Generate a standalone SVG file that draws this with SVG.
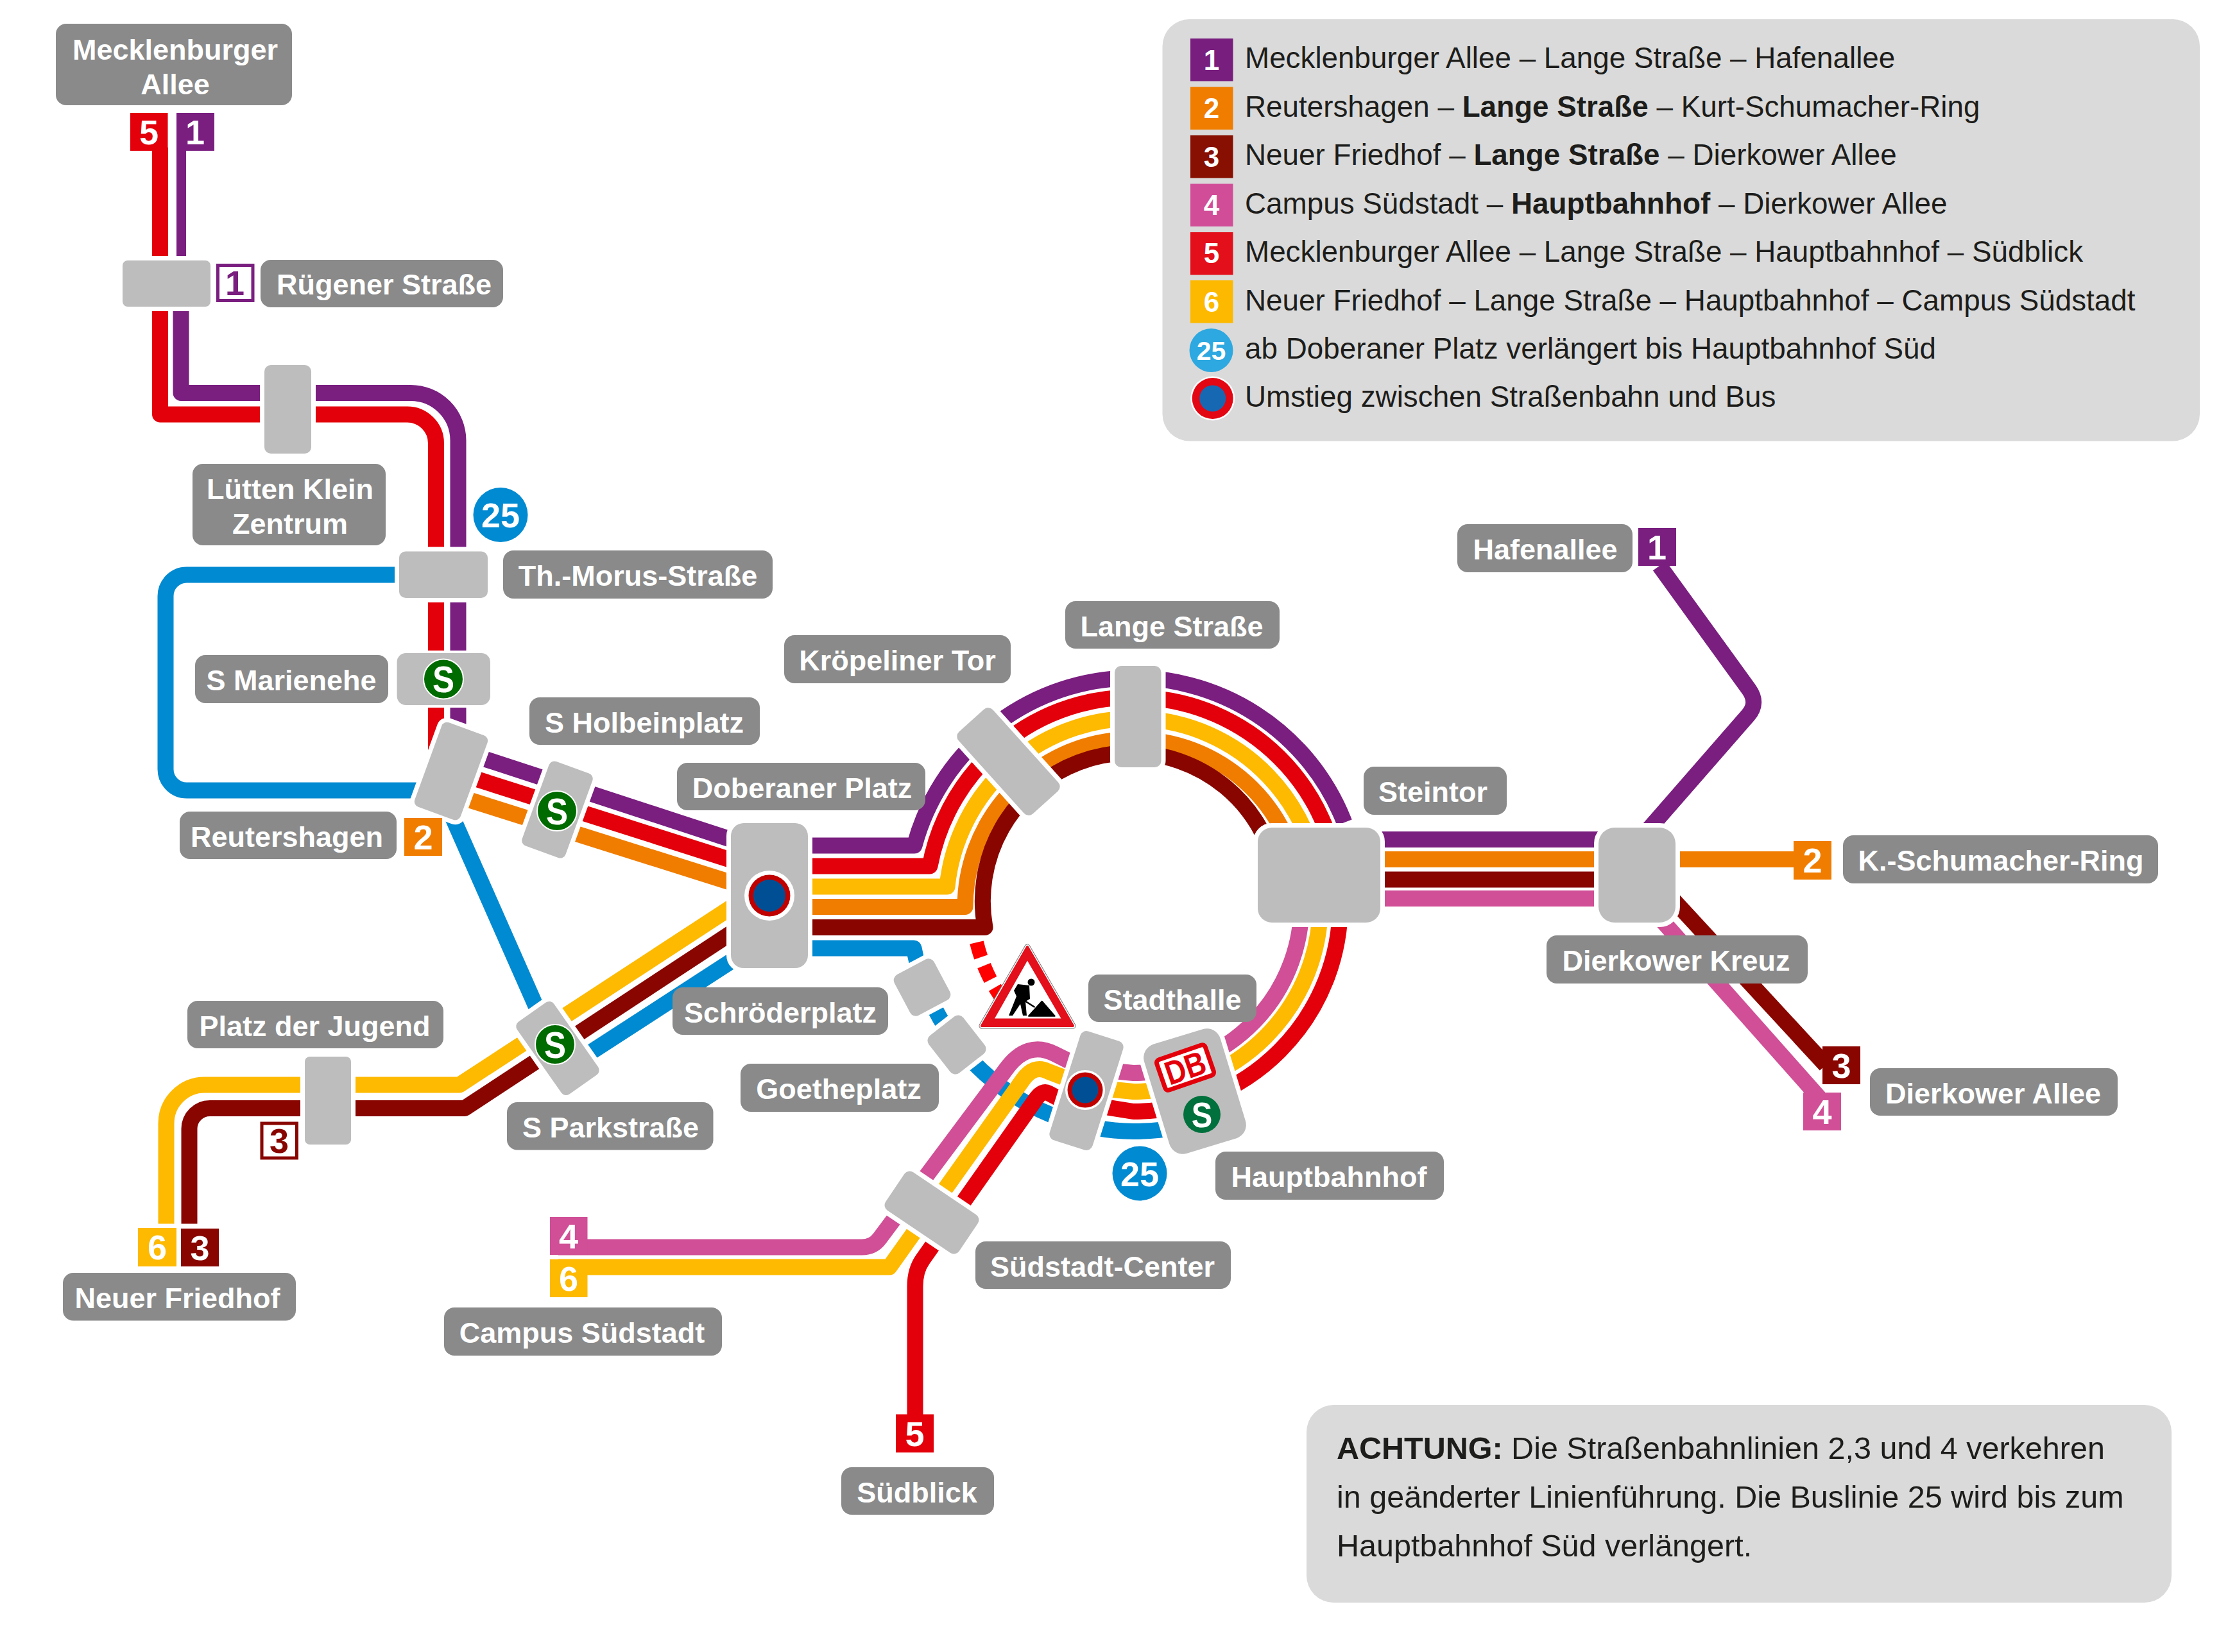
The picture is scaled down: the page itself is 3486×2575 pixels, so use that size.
<svg xmlns="http://www.w3.org/2000/svg" width="3486" height="2575" viewBox="0 0 3486 2575">
<style>
text{font-family:"Liberation Sans",Arial,sans-serif}
.l{fill:none;stroke-width:25;stroke-linejoin:round}
.p{stroke:#7a1e80}.r{stroke:#e3000b}.y{stroke:#fdba00}.o{stroke:#f07d00}.d{stroke:#880500}.k{stroke:#d04f96}.b{stroke:#008ad1}
.st{fill:#bdbdbd;stroke:#fff;stroke-width:14;paint-order:stroke}
.lb{fill:#8a8a8a}
.lt{font-weight:700;font-size:45px;fill:#fff;text-anchor:middle}
.bd{font-weight:700;font-size:54px;fill:#fff;text-anchor:middle}
.lg{font-size:45.8px;fill:#1d1d1b}
.nt{font-size:48.5px;fill:#1d1d1b}
.lgb{font-weight:700}
.ld{font-weight:700;font-size:44px;fill:#fff;text-anchor:middle}
.bp{fill:#7a1e80}.br{fill:#e3000b}.by{fill:#fdba00}.bo{fill:#f07d00}.bdr{fill:#880500}.bk{fill:#d04f96}
.sc{fill:#006b00;stroke:#fff;stroke-width:2}
.ss{font-weight:700;font-size:58px;fill:#fff;text-anchor:middle}
</style>
<rect width="3486" height="2575" fill="#fff"/>
<g id="connectors">
<path class="l b" d="M1266,1478 H1424 A353,353 0 0 0 1766,1763.5 A353,353 0 0 0 1835,1757"/>
<path class="l b" d="M620,896 H291 A33,33 0 0 0 258,929 V1199 A33,33 0 0 0 291,1232 H670"/>
<path class="l b" d="M680,1217 L850,1602"/>
<path class="l b" d="M1160,1485 L890,1660"/>
<path class="l p" style="stroke-width:15" d="M282.5,230 V400"/>
<path class="l r" d="M249.5,230 V400"/>
<path class="l p" d="M282,480 V612.5 H640 A74,74 0 0 1 714,686.5 V1160"/>
<path class="l r" d="M249.5,480 V646 H634.5 A45,45 0 0 1 679.5,691 V1190"/>
<path class="l p" d="M720,1171.5 L1150,1312"/>
<path class="l r" d="M710,1204 L1150,1344"/>
<path class="l o" d="M700,1237 L1150,1379"/>
<path class="l y" d="M1140,1414 L716,1691 H319 A60,60 0 0 0 259,1751 V1907.5"/>
<path class="l d" d="M1140,1454 L724,1727.5 H327 A32,32 0 0 0 295,1759.5 V1907.5"/>
<path class="l p" d="M1266,1318 H1425 A353,353 0 0 1 2095,1282"/>
<path class="l r" d="M1266,1350 H1449 A322.5,322.5 0 0 1 2088.5,1410 A322.5,322.5 0 0 1 1766,1732.5 L1700,1722"/>
<path class="l y" d="M1266,1382 H1476 A291.5,291.5 0 0 1 2057.5,1410 A291.5,291.5 0 0 1 1766,1701.5 L1700,1695"/>
<path class="l o" d="M1266,1413.5 H1504 A262,262 0 0 1 2020,1350"/>
<path class="l d" d="M1266,1445.5 H1535 A231,231 0 0 1 1960,1285 L1990,1340"/>
<path class="l k" d="M2028,1400 A262.5,262.5 0 0 1 1766,1672.5 L1700,1666"/>
<path class="l p" d="M2100,1308.5 H2560"/>
<path class="l o" d="M2100,1339.5 H2800"/>
<path class="l d" d="M2100,1371 H2540"/>
<path class="l k" d="M2100,1400.5 H2540"/>
<path class="l p" d="M2586,882 L2725,1074 Q2740.8,1095.8 2724,1115 L2560,1303"/>
<path class="l d" d="M2570,1362 L2845,1660"/>
<path class="l k" d="M2560,1401 L2835,1711"/>
<path d="M1522,1469 A251,251 0 0 0 1590,1590" fill="none" stroke="#f00" stroke-width="22" stroke-dasharray="24 14"/>
<path class="l k" d="M870,1944 H1343 Q1361,1944 1371,1930 L1567,1667.5 Q1600.6,1620.4 1644,1643 L1680,1661"/>
<path class="l y" d="M870,1975 H1386 L1594,1683 Q1611.5,1658.8 1633,1670 L1680,1688"/>
<path class="l r" d="M1426,2210 V2005 Q1426,1980 1438,1963 L1615,1712 Q1624.5,1699 1634,1704 L1680,1728"/>
</g>
<g id="node-mecklenburger-allee">
<rect class="lb" x="87" y="37" width="368" height="127" rx="16"/>
<text class="lt" x="273" y="93">Mecklenburger</text>
<text class="lt" x="273" y="147">Allee</text>
<rect class="br" x="203" y="176" width="58.5" height="59"/><text class="bd" x="232" y="225">5</text>
<rect class="bp" x="275" y="176" width="59" height="59"/><text class="bd" x="304" y="225">1</text>
</g>
<g id="node-ruegener-strasse">
<rect class="st" x="191" y="406" width="137" height="72" rx="8"/>
<rect x="339.5" y="413.5" width="54.5" height="55" fill="#fff" stroke="#7a1e80" stroke-width="5"/>
<text class="bd" x="366" y="460" style="fill:#7a1e80">1</text>
<rect class="lb" x="406" y="405" width="378" height="74" rx="16"/>
<text class="lt" x="598.5" y="459">Rügener Straße</text>
</g>
<g id="node-luetten-klein-zentrum">
<rect class="st" x="412" y="569" width="73" height="138" rx="10"/>
<rect class="lb" x="300" y="723" width="301" height="127" rx="16"/>
<text class="lt" x="452" y="778">Lütten Klein</text>
<text class="lt" x="452" y="832">Zentrum</text>
</g>
<g id="node-bus-25-north">
<circle cx="780" cy="802.5" r="42.5" fill="#008ad1"/>
<text class="bd" x="780" y="822">25</text>
</g>
<g id="node-th-morus-strasse">
<rect class="st" x="622" y="859.5" width="138" height="72.5" rx="10"/>
<rect class="lb" x="784" y="858" width="420" height="75" rx="16"/>
<text class="lt" x="994" y="912.5">Th.-Morus-Straße</text>
</g>
<g id="node-s-marienehe">
<rect class="st" style="stroke-width:8" x="618.6" y="1018" width="145.4" height="81" rx="14"/>
<circle class="sc" cx="691" cy="1058.5" r="31"/>
<text class="ss" transform="translate(691 1079) scale(.88 1)">S</text>
<rect class="lb" x="304" y="1021" width="301" height="75" rx="16"/>
<text class="lt" x="454" y="1075.5">S Marienehe</text>
</g>
<g id="node-reutershagen">
<rect class="st" x="-38" y="-70" width="76" height="140" rx="9" transform="translate(703 1202) rotate(20)"/>
<rect class="lb" x="280" y="1265" width="338" height="74" rx="16"/>
<text class="lt" x="447" y="1319.5">Reutershagen</text>
<rect class="bo" x="630" y="1275" width="59" height="59"/><text class="bd" x="659.5" y="1324">2</text>
</g>
<g id="node-s-holbeinplatz">
<rect class="st" x="-36" y="-70" width="72" height="140" rx="9" transform="translate(868.5 1262) rotate(20)"/>
<circle class="sc" cx="868" cy="1264" r="31"/>
<text class="ss" transform="translate(868 1284.5) scale(.88 1)">S</text>
<rect class="lb" x="825" y="1087" width="359" height="74" rx="16"/>
<text class="lt" x="1004" y="1141.5">S Holbeinplatz</text>
</g>
<g id="node-doberaner-platz">
<rect class="st" x="1139" y="1283" width="120" height="226" rx="20"/>
<circle cx="1199" cy="1396" r="39" fill="#fff"/>
<circle cx="1199" cy="1396" r="32.5" fill="#c00000"/>
<circle cx="1199" cy="1396" r="25" fill="#004f94"/>
<rect class="lb" x="1055" y="1189" width="387" height="74" rx="16"/>
<text class="lt" x="1250" y="1243.5">Doberaner Platz</text>
</g>
<g id="node-kroepeliner-tor">
<rect class="st" x="-86" y="-36" width="172" height="72" rx="10" transform="translate(1571.5 1187) rotate(48)"/>
<rect class="lb" x="1222" y="990" width="353" height="75" rx="16"/>
<text class="lt" x="1398.5" y="1044.5">Kröpeliner Tor</text>
</g>
<g id="node-lange-strasse">
<rect class="st" x="1737" y="1038" width="72.5" height="158" rx="10"/>
<rect class="lb" x="1660" y="937" width="334" height="74" rx="16"/>
<text class="lt" x="1826" y="991.5">Lange Straße</text>
</g>
<g id="node-steintor">
<rect class="st" x="1960" y="1290" width="191" height="148" rx="22"/>
<rect class="lb" x="2125" y="1195" width="223" height="75" rx="16"/>
<text class="lt" x="2233" y="1249.5">Steintor</text>
</g>
<g id="node-dierkower-kreuz">
<rect class="st" x="2491" y="1290" width="120" height="148" rx="25"/>
<rect class="lb" x="2410" y="1458" width="407" height="75" rx="16"/>
<text class="lt" x="2612" y="1512.5">Dierkower Kreuz</text>
</g>
<g id="node-hafenallee">
<rect class="lb" x="2271" y="817" width="273" height="75" rx="16"/>
<text class="lt" x="2408" y="872">Hafenallee</text>
<rect class="bp" x="2553" y="823" width="59" height="59"/><text class="bd" x="2582" y="872">1</text>
</g>
<g id="node-k-schumacher-ring">
<rect class="bo" x="2795" y="1311" width="59" height="60"/><text class="bd" x="2824.5" y="1360">2</text>
<rect class="lb" x="2872" y="1302" width="491" height="75" rx="16"/>
<text class="lt" x="3118" y="1356.5">K.-Schumacher-Ring</text>
</g>
<g id="node-dierkower-allee">
<rect class="bdr" x="2840" y="1631" width="59" height="59"/><text class="bd" x="2869.5" y="1680">3</text>
<rect class="bk" x="2810" y="1703" width="59" height="59"/><text class="bd" x="2839.5" y="1752">4</text>
<rect class="lb" x="2914" y="1665" width="386" height="74" rx="16"/>
<text class="lt" x="3106" y="1719.5">Dierkower Allee</text>
</g>
<g id="node-schroederplatz">
<rect class="st" x="-35" y="-36" width="70" height="72" rx="10" transform="translate(1437 1539) rotate(-28)"/>
<rect class="lb" x="1048" y="1539" width="336" height="74" rx="16"/>
<text class="lt" x="1216" y="1593.5">Schröderplatz</text>
</g>
<g id="node-goetheplatz">
<rect class="st" x="-34" y="-37" width="68" height="74" rx="10" transform="translate(1491 1628.5) rotate(-38)"/>
<rect class="lb" x="1154" y="1658" width="309" height="75" rx="16"/>
<text class="lt" x="1307" y="1712.5">Goetheplatz</text>
</g>
<g id="sign-baustelle">
<polygon points="1601,1476 1530,1599 1672,1599" fill="#fff" stroke="#777" stroke-width="9" stroke-linejoin="round"/>
<polygon points="1601,1476 1530,1599 1672,1599" fill="#fff" stroke="#fff" stroke-width="7" stroke-linejoin="round"/>
<polygon points="1601,1476 1530,1599 1672,1599" fill="#e30f1b" stroke="#e30f1b" stroke-width="4" stroke-linejoin="round"/>
<polygon points="1601,1497.5 1550,1587.5 1653.5,1587.5" fill="#fff"/>
<circle cx="1607" cy="1531" r="5.5"/>
<path d="M1586,1534 L1604,1536 L1605,1557 L1598,1561 L1600,1583 L1594,1583 L1590,1565 L1578,1583 L1572,1583 L1584,1553 L1580,1544 Z"/>
<path d="M1586,1553 L1612.5,1570" stroke="#000" stroke-width="2.5"/>
<path d="M1603,1583.7 L1623.7,1560.7 L1643.7,1583.7 Z" stroke="#000" stroke-width="2" stroke-linejoin="round"/>
</g>
<g id="node-stadthalle">
<rect class="st" x="-35" y="-89" width="70" height="178" rx="10" transform="translate(1693 1700) rotate(17.5)"/>
<circle cx="1691" cy="1699" r="31" fill="#fff"/>
<circle cx="1691" cy="1699" r="27.5" fill="#c00000"/>
<circle cx="1691" cy="1699" r="20.5" fill="#004f94"/>
<rect class="lb" x="1696" y="1519" width="262" height="74" rx="16"/>
<text class="lt" x="1827" y="1573.5">Stadthalle</text>
</g>
<g id="node-hauptbahnhof">
<rect class="st" x="-62" y="-89" width="124" height="178" rx="22" transform="translate(1862 1701) rotate(-17)"/>
<g transform="translate(1847 1664) rotate(-19)">
<rect x="-40" y="-25" width="80" height="50" rx="5" fill="#fff" stroke="#e3000b" stroke-width="7"/>
<text transform="translate(0 18.5) scale(.85 1)" text-anchor="middle" font-weight="700" font-size="52" fill="#e3000b">DB</text>
</g>
<circle cx="1873" cy="1737" r="29" fill="#00703c"/>
<text class="ss" transform="translate(1873 1757) scale(.84 .96)">S</text>
<rect class="lb" x="1894" y="1795" width="356" height="75" rx="16"/>
<text class="lt" x="2071" y="1849.5">Hauptbahnhof</text>
</g>
<g id="node-bus-25-south">
<circle cx="1776" cy="1829" r="42.5" fill="#008ad1"/>
<text class="bd" x="1776" y="1848.5">25</text>
</g>
<g id="node-suedstadt-center">
<rect class="st" x="-69" y="-36" width="138" height="72" rx="10" transform="translate(1452 1890) rotate(34)"/>
<rect class="lb" x="1520" y="1935" width="398" height="74" rx="16"/>
<text class="lt" x="1718" y="1989.5">Südstadt-Center</text>
</g>
<g id="node-s-parkstrasse">
<rect class="st" x="-35" y="-69" width="70" height="138" rx="9" transform="translate(869 1634) rotate(-35)"/>
<circle class="sc" cx="865" cy="1628" r="31"/>
<text class="ss" transform="translate(865 1648.5) scale(.88 1)">S</text>
<rect class="lb" x="790" y="1718" width="321.5" height="74.5" rx="16"/>
<text class="lt" x="951.5" y="1772.5">S Parkstraße</text>
</g>
<g id="node-platz-der-jugend">
<rect class="st" x="475" y="1647" width="72" height="137" rx="8"/>
<rect x="408" y="1751" width="54.5" height="54" fill="#fff" stroke="#880500" stroke-width="5"/>
<text class="bd" x="435" y="1797" style="fill:#880500">3</text>
<rect class="lb" x="292" y="1560" width="399" height="74" rx="16"/>
<text class="lt" x="490.5" y="1614.5">Platz der Jugend</text>
</g>
<g id="node-neuer-friedhof">
<rect class="by" x="215" y="1914" width="60" height="60"/><text class="bd" x="245" y="1963">6</text>
<rect class="bdr" x="282" y="1915" width="59" height="59"/><text class="bd" x="311.5" y="1964">3</text>
<rect class="lb" x="98" y="1984" width="363" height="74.5" rx="16"/>
<text class="lt" x="276.5" y="2038.5">Neuer Friedhof</text>
</g>
<g id="node-campus-suedstadt">
<rect class="bk" x="857" y="1897" width="58.5" height="59"/><text class="bd" x="886" y="1946">4</text>
<rect class="by" x="857" y="1963" width="58.5" height="59"/><text class="bd" x="886" y="2012">6</text>
<rect class="lb" x="692" y="2038" width="433" height="75" rx="16"/>
<text class="lt" x="907" y="2092.5">Campus Südstadt</text>
</g>
<g id="node-suedblick">
<rect class="br" x="1396" y="2204.5" width="59" height="59.5"/><text class="bd" x="1425.5" y="2254">5</text>
<rect class="lb" x="1311" y="2287" width="238" height="74" rx="16"/>
<text class="lt" x="1429" y="2341.5">Südblick</text>
</g>
<g id="legend">
<rect x="1811.5" y="30" width="1616.5" height="657.5" rx="42" fill="#dadada"/>
<rect x="1855" y="60" width="66.5" height="66.5" fill="#781e7e"/><text class="ld" x="1888" y="109">1</text>
<rect x="1855" y="135.5" width="66.5" height="66.5" fill="#f07d00"/><text class="ld" x="1888" y="184">2</text>
<rect x="1855" y="211" width="66.5" height="66.5" fill="#871002"/><text class="ld" x="1888" y="259.5">3</text>
<rect x="1855" y="286.5" width="66.5" height="66.5" fill="#d14d97"/><text class="ld" x="1888" y="335">4</text>
<rect x="1855" y="362" width="66.5" height="66.5" fill="#e30f1b"/><text class="ld" x="1888" y="410">5</text>
<rect x="1855" y="437" width="66.5" height="66.5" fill="#fdb900"/><text class="ld" x="1888" y="485.5">6</text>
<circle cx="1887.5" cy="546" r="34" fill="#2da8e0"/><text class="ld" x="1887.5" y="560.5" style="font-size:41px">25</text>
<circle cx="1889.7" cy="621" r="34.5" fill="#fff"/><circle cx="1889.7" cy="621" r="32" fill="#e30613"/><circle cx="1889.7" cy="621" r="20.5" fill="#1768b3"/>
<text class="lg" x="1940" y="106">Mecklenburger Allee – Lange Straße – Hafenallee</text>
<text class="lg" x="1940" y="182">Reutershagen – <tspan class="lgb">Lange Straße</tspan> – Kurt-Schumacher-Ring</text>
<text class="lg" x="1940" y="257">Neuer Friedhof – <tspan class="lgb">Lange Straße</tspan> – Dierkower Allee</text>
<text class="lg" x="1940" y="332.5">Campus Südstadt – <tspan class="lgb">Hauptbahnhof</tspan> – Dierkower Allee</text>
<text class="lg" x="1940" y="408">Mecklenburger Allee – Lange Straße – Hauptbahnhof – Südblick</text>
<text class="lg" x="1940" y="483.5">Neuer Friedhof – Lange Straße – Hauptbahnhof – Campus Südstadt</text>
<text class="lg" x="1940" y="558.5">ab Doberaner Platz verlängert bis Hauptbahnhof Süd</text>
<text class="lg" x="1940" y="634">Umstieg zwischen Straßenbahn und Bus</text>
</g>
<g id="note">
<rect x="2036" y="2190" width="1348" height="308" rx="42" fill="#dadada"/>
<text class="nt" x="2083" y="2274"><tspan class="lgb">ACHTUNG:</tspan> Die Straßenbahnlinien 2,3 und 4 verkehren</text>
<text class="nt" x="2083" y="2350">in geänderter Linienführung. Die Buslinie 25 wird bis zum</text>
<text class="nt" x="2083" y="2426">Hauptbahnhof Süd verlängert.</text>
</g>
</svg>
